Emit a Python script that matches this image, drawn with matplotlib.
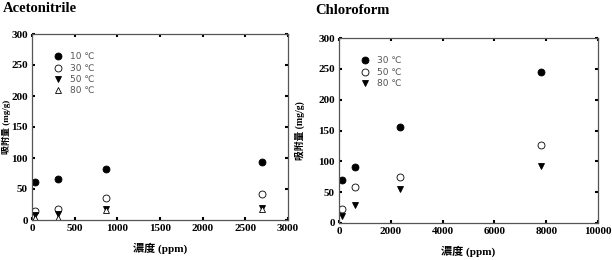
import matplotlib
matplotlib.use("Agg")
import matplotlib.pyplot as plt

# Acetonitrile
acn_x = [40, 300, 870, 2700]
acn_10 = [61, 66, 82, 93]
acn_30 = [15, 18, 35, 42]
acn_50 = [8, 10, 18, 19]
acn_80 = [3, 4, 16, 17]

# Chloroform
chl_x = [100, 600, 2350, 7800]
chl_30 = [70, 91, 155, 245]
chl_50 = [22, 59, 74, 127]
chl_80 = [11, 29, 55, 92]

acn_xticks = [0, 500, 1000, 1500, 2000, 2500, 3000]
chl_xticks = [0, 2000, 4000, 6000, 8000, 10000]
yticks = [0, 50, 100, 150, 200, 250, 300]

serif = ['Liberation Serif', 'Noto Sans CJK TC']
cjk = ['Liberation Serif', 'Noto Sans CJK TC']

fig = plt.figure(figsize=(6.12, 2.6), dpi=100)
ax1 = fig.add_axes([32/612, 1-220/260, (288-32)/612, (220-34)/260])
ax2 = fig.add_axes([339/612, 1-223/260, (598-339)/612, (223-38)/260])

styles = {
    '10': dict(marker='o', mfc='black', mec='black'),
    '30': dict(marker='o', mfc='white', mec='black'),
    '50': dict(marker='v', mfc='black', mec='black'),
    '80': dict(marker='^', mfc='white', mec='black'),
}

for lab, ys in [('10', acn_10), ('30', acn_30), ('50', acn_50), ('80', acn_80)]:
    ax1.plot(acn_x, ys, ls='none', ms=5, mew=0.6, label=f'{lab} ℃', **styles[lab])

for lab, key, ys in [('30', '10', chl_30), ('50', '30', chl_50), ('80', '50', chl_80)]:
    ax2.plot(chl_x, ys, ls='none', ms=5, mew=0.6, label=f'{lab} ℃', **styles[key])

for ax, xt, xmax in [(ax1, acn_xticks, 3000), (ax2, chl_xticks, 10000)]:
    ax.set_xlim(0, xmax)
    ax.set_ylim(0, 300)
    ax.set_xticks(xt)
    ax.set_yticks(yticks)
    ax.tick_params(direction='in', top=True, right=True, length=2, width=1.5,
                   labelsize=8, pad=3, color='black')
    for t in ax.get_xticklabels() + ax.get_yticklabels():
        t.set_fontfamily(serif)
        t.set_fontweight('bold')
    for s in ax.spines.values():
        s.set_color('#555555')
        s.set_linewidth(0.9)
    ax.set_xlabel('濃度 (ppm)', fontsize=8, fontweight='bold', family=cjk, labelpad=7)
    leg = ax.legend(loc='upper left', bbox_to_anchor=(0.07, 0.92), frameon=False,
                    fontsize=6.5, handletextpad=0.8, labelspacing=0.25,
                    borderaxespad=0, handlelength=1.0)
    for t in leg.get_texts():
        t.set_color('#555555')

fig.text(6/612, 1-127/260, '吸附量 (mg/g)', fontsize=6.5, fontweight='bold',
         family=cjk, rotation=90, va='center', ha='center')
ax2.set_ylabel('吸附量 (mg/g)', fontsize=7, fontweight='bold', family=cjk)
ax2.yaxis.set_label_coords(-0.13, 0.5)

fig.text(3/612, 1-9/260, 'Acetonitrile', fontsize=10.5, fontweight='bold',
         family=serif, va='center', ha='left')
fig.text(315/612, 1-10/260, 'Chloroform', fontsize=10.5, fontweight='bold',
         family=serif, va='center', ha='left')

fig.savefig('out.png', dpi=100)
